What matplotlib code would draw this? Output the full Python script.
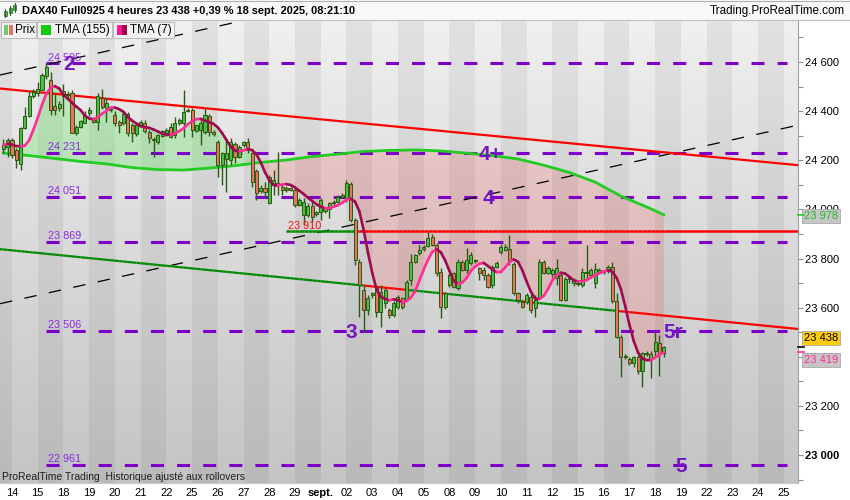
import numpy as np
import pandas as pd
import matplotlib
matplotlib.use('Agg')
import matplotlib.pyplot as plt
from matplotlib.collections import LineCollection
from matplotlib.patches import Rectangle
from matplotlib.lines import Line2D
from matplotlib.ticker import MultipleLocator, FuncFormatter

plt.rcParams['font.family'] = ['Liberation Sans', 'DejaVu Sans']
plt.rcParams['lines.scale_dashes'] = False

# ---------------- data ----------------
day_labels = ['14', '15', '18', '19', '20', '21', '22', '25', '26', '27', '28', '29',
              'sept.', '02', '03', '04', '05', '08', '09', '10', '11', '12', '15', '16',
              '17', '18', '19', '22', '23', '24', '25']
bars_per_day = 6
first_label_bar = 2

opens = [
    24244, 24255, 24282, 24240, 24185, 24330, 24380, 24462, 24472, 24488,
    24545, 24527, 24420, 24414, 24480, 24471, 24472, 24310, 24337, 24353,
    24391, 24370, 24357, 24452, 24412, 24405, 24384, 24356, 24350, 24390,
    24343, 24307, 24340, 24350, 24313, 24285, 24275, 24300, 24310, 24337,
    24303, 24350, 24350, 24400, 24404, 24320, 24323, 24316, 24381, 24316,
    24275, 24180, 24205, 24200, 24268, 24215, 24262, 24275, 24228, 24156,
    24075, 24085, 24024, 24099, 24106, 24092, 24078, 24085, 24078, 24018,
    23977, 23977, 24015, 23980, 23988, 23995, 24000, 24025, 24031, 24050,
    24045, 24103, 23956, 23787, 23672, 23590, 23650, 23678, 23583, 23617,
    23590, 23570, 23604, 23638, 23631, 23712, 23787, 23821, 23838, 23850,
    23889, 23855, 23747, 23604, 23692, 23739, 23679, 23787, 23753, 23781,
    23790, 23760, 23753, 23733, 23692, 23767, 23828, 23836, 23838, 23778,
    23658, 23624, 23624, 23645, 23597, 23645, 23787, 23740, 23735, 23720,
    23733, 23631, 23715, 23700, 23700, 23692, 23740, 23733, 23700, 23740,
    23745, 23748, 23764, 23625, 23482, 23400, 23392, 23375, 23401, 23340,
    23414, 23390, 23425, 23455, 23417]
highs = [
    24285, 24290, 24290, 24250, 24335, 24418, 24483, 24490, 24520, 24555,
    24595, 24560, 24470, 24440, 24510, 24480, 24485, 24345, 24365, 24400,
    24418, 24378, 24475, 24490, 24452, 24415, 24400, 24362, 24396, 24396,
    24352, 24350, 24364, 24365, 24325, 24296, 24305, 24325, 24330, 24350,
    24378, 24370, 24486, 24412, 24412, 24345, 24362, 24411, 24390, 24325,
    24282, 24235, 24282, 24290, 24275, 24262, 24280, 24290, 24235, 24165,
    24100, 24112, 24140, 24160, 24235, 24100, 24095, 24090, 24085, 24045,
    24045, 24025, 24030, 23995, 24045, 24010, 24030, 24040, 24060, 24065,
    24119, 24112, 23965, 23800, 23690, 23650, 23665, 23692, 23692, 23680,
    23597, 23625, 23650, 23645, 23712, 23820, 23820, 23855, 23855, 23909,
    23900, 23862, 23760, 23665, 23740, 23745, 23800, 23795, 23842, 23825,
    23800, 23767, 23767, 23740, 23775, 23790, 23860, 23860, 23896, 23785,
    23665, 23630, 23660, 23660, 23652, 23800, 23795, 23770, 23760, 23800,
    23740, 23725, 23730, 23720, 23710, 23760, 23855, 23760, 23780, 23760,
    23755, 23775, 23787, 23660, 23490, 23410, 23400, 23405, 23408, 23420,
    23425, 23425, 23502, 23490, 23445]
lows = [
    24228, 24215, 24210, 24167, 24160, 24326, 24377, 24455, 24462, 24486,
    24530, 24385, 24385, 24400, 24380, 24445, 24310, 24303, 24330, 24350,
    24380, 24350, 24323, 24410, 24357, 24395, 24340, 24310, 24345, 24300,
    24275, 24300, 24335, 24312, 24270, 24215, 24265, 24295, 24300, 24290,
    24289, 24345, 24296, 24395, 24296, 24315, 24262, 24305, 24300, 24300,
    24133, 24099, 24072, 24180, 24187, 24210, 24255, 24230, 24092, 24038,
    24065, 24051, 24020, 24058, 24058, 24060, 24070, 24075, 24010, 24012,
    23936, 23970, 23950, 23975, 23957, 23985, 23963, 24018, 24025, 24045,
    24030, 23950, 23773, 23563, 23502, 23570, 23640, 23563, 23522, 23600,
    23556, 23560, 23595, 23595, 23625, 23692, 23780, 23814, 23830, 23845,
    23850, 23730, 23557, 23595, 23685, 23680, 23670, 23750, 23740, 23775,
    23780, 23713, 23713, 23680, 23680, 23760, 23820, 23830, 23775, 23650,
    23618, 23597, 23615, 23580, 23563, 23640, 23735, 23735, 23725, 23692,
    23625, 23625, 23700, 23690, 23690, 23685, 23720, 23725, 23680, 23735,
    23735, 23740, 23620, 23475, 23319, 23390, 23368, 23360, 23330, 23278,
    23405, 23312, 23400, 23320, 23400]
closes = [
    24262, 24282, 24222, 24201, 24330, 24380, 24461, 24479, 24490, 24547,
    24580, 24404, 24405, 24428, 24460, 24464, 24312, 24337, 24360, 24384,
    24404, 24357, 24460, 24418, 24432, 24408, 24350, 24345, 24390, 24310,
    24310, 24343, 24357, 24318, 24290, 24282, 24302, 24320, 24325, 24296,
    24350, 24364, 24397, 24405, 24323, 24343, 24350, 24384, 24316, 24308,
    24180, 24228, 24228, 24275, 24215, 24255, 24275, 24241, 24113, 24065,
    24085, 24072, 24133, 24119, 24100, 24078, 24088, 24080, 24018, 24038,
    24031, 24015, 23970, 23990, 24038, 24004, 24025, 24031, 24052, 24058,
    24106, 23956, 23794, 23692, 23590, 23638, 23658, 23583, 23665, 23672,
    23570, 23617, 23644, 23604, 23705, 23787, 23814, 23834, 23848, 23883,
    23855, 23740, 23604, 23658, 23733, 23685, 23787, 23753, 23794, 23815,
    23788, 23740, 23733, 23686, 23767, 23780, 23848, 23848, 23794, 23658,
    23631, 23604, 23652, 23590, 23631, 23787, 23740, 23760, 23753, 23760,
    23631, 23715, 23720, 23713, 23695, 23746, 23745, 23753, 23756, 23753,
    23748, 23764, 23625, 23482, 23401, 23405, 23375, 23397, 23340, 23414,
    23410, 23410, 23461, 23417, 23438]

# TMA(155) read at every 6th bar
tma155_bars = [0, 6, 12, 18, 24, 30, 36, 42, 48, 54, 60, 66, 72, 78, 84, 90,
               96, 102, 108, 114, 120, 126, 132, 138, 144, 150, 154]
tma155_vals = [24229, 24219, 24207, 24195, 24185, 24170, 24162, 24160, 24168,
               24178, 24191, 24201, 24215, 24225, 24236, 24240, 24242, 24238,
               24229, 24219, 24205, 24180, 24150, 24111, 24054, 24010, 23978]

# horizontal levels (purple dashed) and their wave labels
levels = [24595, 24231, 24051, 23869, 23506, 22961]
wave_names = ['2', '4+', '4', '3', '5r', '5']
wave_levels = [24595, 24231, 24051, 23506, 23506, 22961]

# drawn trend lines: (bar, value) anchors
red_line = [(-0.8, 24492), (185.3, 24180)]
support_line = [(-0.8, 23838), (185.3, 23513)]
channel_low = [(-0.8, 23616), (185.3, 24343)]
channel_high = [(-0.8, 24547), (185.3, 25274)]
hline_value = 23910
hline_start = 66

last_price = 23438
tma7_last = 23419
tma155_last = 23978

# ---------------- figure ----------------
W, H = 850, 500
def fx(x): return x / W
def fy(y): return 1 - y / H

fig = plt.figure(figsize=(8.5, 5), dpi=100, facecolor='white')
ax = fig.add_axes([0, fy(483), fx(798), (483 - 20) / H])

n = len(closes)
k = np.arange(n)
o = np.array(opens, float); h = np.array(highs, float)
l = np.array(lows, float); c = np.array(closes, float)

XMIN, XMAX = -0.8, 185.3
YMIN, YMAX = 22886, 24771

# background gradient + day bands
grad = np.linspace(0.94, 0.77, 256)
img = np.dstack([np.repeat(grad[:, None], 2, axis=1)] * 3)
ax.imshow(img, extent=(0, 1, 0, 1), transform=ax.transAxes, aspect='auto',
          zorder=0, interpolation='bilinear')
for i in range(-1, len(day_labels)):
    if i % 2 == 1:
        a = first_label_bar + bars_per_day * i
        ax.axvspan(a, a + bars_per_day, color='black', alpha=0.055, lw=0, zorder=0.5)

# TMA(7) computed from closes (triangular average)
tma7 = pd.Series(c).rolling(4, min_periods=1).mean().rolling(4, min_periods=1).mean().values

# fills between TMA7 and TMA155
kb = np.array(tma155_bars, float); vb = np.array(tma155_vals, float)
split = 60
gm = kb <= split
ax.fill(np.r_[k[:split + 1], kb[gm][::-1]], np.r_[tma7[:split + 1], vb[gm][::-1]],
        color=(0.3, 0.92, 0.3), alpha=0.28, lw=0, zorder=1)
pm = kb >= split
ax.fill(np.r_[k[split:], kb[pm][::-1]], np.r_[tma7[split:], vb[pm][::-1]],
        color=(1.0, 0.1, 0.1), alpha=0.15, lw=0, zorder=1)

# purple levels
lvl_start, lvl_end = 9.93, 182.7
for lv in levels:
    ax.plot([lvl_start, lvl_end], [lv, lv], color='#7d00c8', lw=2.2,
            ls=(0, (9.4, 9.4)), zorder=2, solid_capstyle='butt', dash_capstyle='butt')
    ax.annotate(f"{lv:,}".replace(',', ' '), (10.4, lv), xytext=(0, 0.3),
                textcoords='offset points', va='bottom', ha='left',
                color='#8a2be2', fontsize=7.8, zorder=8)

# black dashed channel
for ln in (channel_low, channel_high):
    ax.plot([ln[0][0], ln[1][0]], [ln[0][1], ln[1][1]], color='black', lw=0.9,
            ls=(0, (9, 9)), zorder=2)

# red descending line
ax.plot([red_line[0][0], red_line[1][0]], [red_line[0][1], red_line[1][1]],
        color='#ff0000', lw=1.6, zorder=3)

def line_val(ln, x):
    (x0, y0), (x1, y1) = ln
    return y0 + (y1 - y0) * (np.asarray(x, float) - x0) / (x1 - x0)

# support line coloured by breaks (green above, red below)
below = c < line_val(support_line, k)
segs, cols = [], []
xs_sup = np.r_[XMIN, k, XMAX]
state = np.r_[False, below, below[-1]]
for i in range(len(xs_sup) - 1):
    xa, xb = xs_sup[i], xs_sup[i + 1]
    segs.append([(xa, line_val(support_line, xa)), (xb, line_val(support_line, xb))])
    cols.append('#ff0000' if state[i] else '#008a00')
ax.add_collection(LineCollection(segs, colors=cols, lw=1.6, zorder=3, capstyle='butt'))

# horizontal 23910 line (green until broken, red afterwards)
hb = c < hline_value
segs, cols = [], []
xs_h = np.r_[k[hline_start:], XMAX]
st_h = np.r_[hb[hline_start:], hb[-1]]
for i in range(len(xs_h) - 1):
    segs.append([(xs_h[i], hline_value), (xs_h[i + 1], hline_value)])
    cols.append('#ff0000' if st_h[i] else '#008a00')
ax.add_collection(LineCollection(segs, colors=cols, lw=1.8, zorder=3, capstyle='butt'))
ax.annotate(f"{hline_value:,}".replace(',', ' '), (hline_start + 0.3, hline_value),
            xytext=(0, 0.3), textcoords='offset points', va='bottom', ha='left',
            color='#ff1010', fontsize=7.8, zorder=8)

# TMA 155 line
ax.plot(kb, vb, color='#22cc22', lw=2.0, zorder=3.5)

# candles
up = c >= o
edge = '#2a5a10'
ax.vlines(k, l, h, color=edge, lw=1.0, zorder=5)
bottom = np.minimum(o, c)
height = np.maximum(np.abs(c - o), 5)
ax.bar(k, height, bottom=bottom, width=0.72,
       color=np.where(up, '#46c046', '#e8735f'), edgecolor=edge, lw=0.7, zorder=6)

# TMA 7 coloured by slope
pts = np.column_stack([k, tma7])
seg7 = np.stack([pts[:-1], pts[1:]], axis=1)
rising = np.diff(tma7) >= 0
ax.add_collection(LineCollection(seg7, colors=np.where(rising, '#ff2d95', '#9e0a50'),
                                 lw=1.9, zorder=7, capstyle='round', joinstyle='round'))

# wave labels
wave_bars = [15.3, 113.6, 113.2, 81.1, 156.1, 158.0]
for name, wl, wbx in zip(wave_names, wave_levels, wave_bars):
    ax.annotate(name, (wbx, wl), xytext=(0, -1.2), textcoords='offset points',
                ha='center', va='center', color='#7414c4', fontsize=15,
                fontweight='bold', zorder=9)

# axes cosmetics
ax.set_xlim(XMIN, XMAX)
ax.set_ylim(YMIN, YMAX)
ax.yaxis.tick_right()
ax.yaxis.set_major_locator(MultipleLocator(200))
ax.yaxis.set_minor_locator(MultipleLocator(100))
ax.yaxis.set_major_formatter(FuncFormatter(lambda v, p: f"{v:,.0f}".replace(',', ' ')))
ax.tick_params(axis='y', which='both', direction='out', length=3.6, width=0.8,
               color='#909090', labelsize=8, pad=1.5)
ax.set_xticks([first_label_bar + bars_per_day * i for i in range(len(day_labels))])
ax.set_xticklabels(day_labels)
ax.tick_params(axis='x', length=0, labelsize=8, pad=3.5)
for lab in ax.get_xticklabels():
    if lab.get_text() == 'sept.':
        lab.set_fontweight('bold')
for sp in ('left', 'top'):
    ax.spines[sp].set_visible(False)
ax.spines['right'].set_color('#a0a0a0')
ax.spines['bottom'].set_color('#c8c8c8')
fig.canvas.draw()
for lab in ax.get_yticklabels():
    if lab.get_text() == '23 000':
        lab.set_fontweight('bold')

# right-axis value boxes
def value_box(val, txt_color, fc, dy, tick_color):
    ax.annotate(f"{val:,}".replace(',', ' '), xy=(1.0, val),
                xycoords=('axes fraction', 'data'), xytext=(4, dy),
                textcoords='offset points', va='center', ha='left', fontsize=8,
                color=txt_color, annotation_clip=False, zorder=12,
                bbox=dict(boxstyle='square,pad=0.18', fc=fc, ec='#a8a8a8', lw=0.6))
    ax.plot([1.0, 1.008], [val, val], transform=ax.get_yaxis_transform(),
            color=tick_color, lw=1.2, clip_on=False, zorder=12)

value_box(tma155_last, '#22bb22', '#c6c6c6', -1, '#22cc22')
value_box(last_price, '#000000', '#ffcc10', 6.5, '#000000')
value_box(tma7_last, '#ff2d95', '#c6c6c6', -6.0, '#ff2d95')

# bottom note
fig.text(fx(2), fy(477), "ProRealTime Trading  Historique ajusté aux rollovers",
         fontsize=7.5, color='#202020', va='center', ha='left')

# header
fig.add_artist(Rectangle((0, fy(20)), 1, 20 / H, transform=fig.transFigure,
                         fc='#f8f8f8', ec='none', zorder=0))
fig.add_artist(Line2D([0, 1], [fy(20), fy(20)], transform=fig.transFigure,
                      color='#c0c0c0', lw=0.8))
fig.add_artist(Line2D([0, 1], [fy(0.5), fy(0.5)], transform=fig.transFigure,
                      color='#b0b0b0', lw=0.8))
for cx, w0, w1, b0, b1 in [(5, 9, 17, 11, 16), (10, 6, 15, 8, 13), (15, 3, 12, 5, 10)]:
    fig.add_artist(Line2D([fx(cx), fx(cx)], [fy(w0), fy(w1)], transform=fig.transFigure,
                          color='#2a6a2a', lw=0.8))
    fig.add_artist(Rectangle((fx(cx - 1.5), fy(b1)), 3 / W, (b1 - b0) / H,
                             transform=fig.transFigure, fc='#48b848', ec='#2a6a2a', lw=0.5))
fig.text(fx(22), fy(11), "DAX40 Full0925 4 heures 23 438 +0,39 % 18 sept. 2025, 08:21:10",
         fontsize=7.9, fontweight='bold', va='center', ha='left', color='black')
fig.text(fx(845), fy(11), "Trading.ProRealTime.com", fontsize=8.4, va='center',
         ha='right', color='black')

# legend boxes
for x0, x1 in [(1, 36), (37, 112), (113, 174)]:
    fig.add_artist(Rectangle((fx(x0), fy(38)), (x1 - x0) / W, 16 / H,
                             transform=fig.transFigure, fc='#f3f3f3', ec='#bdbdbd',
                             lw=0.8, zorder=20))
def icon(x0, x1, color):
    fig.add_artist(Rectangle((fx(x0), fy(35)), (x1 - x0) / W, 10 / H,
                             transform=fig.transFigure, fc=color, ec='none', zorder=21))
icon(4, 8.5, '#6ccf6c'); icon(8.5, 13, '#e87060')
icon(41, 51, '#10cc10')
icon(117, 122, '#ff1493'); icon(122, 127, '#a0004a')
for tx, s in [(15.5, 'Prix'), (55, 'TMA (155)'), (130, 'TMA (7)')]:
    t = fig.text(fx(tx), fy(30), s, fontsize=8.4, va='center', ha='left', color='black')
    t.set_zorder(22)

fig.savefig('out.png', dpi=100, facecolor='white')
